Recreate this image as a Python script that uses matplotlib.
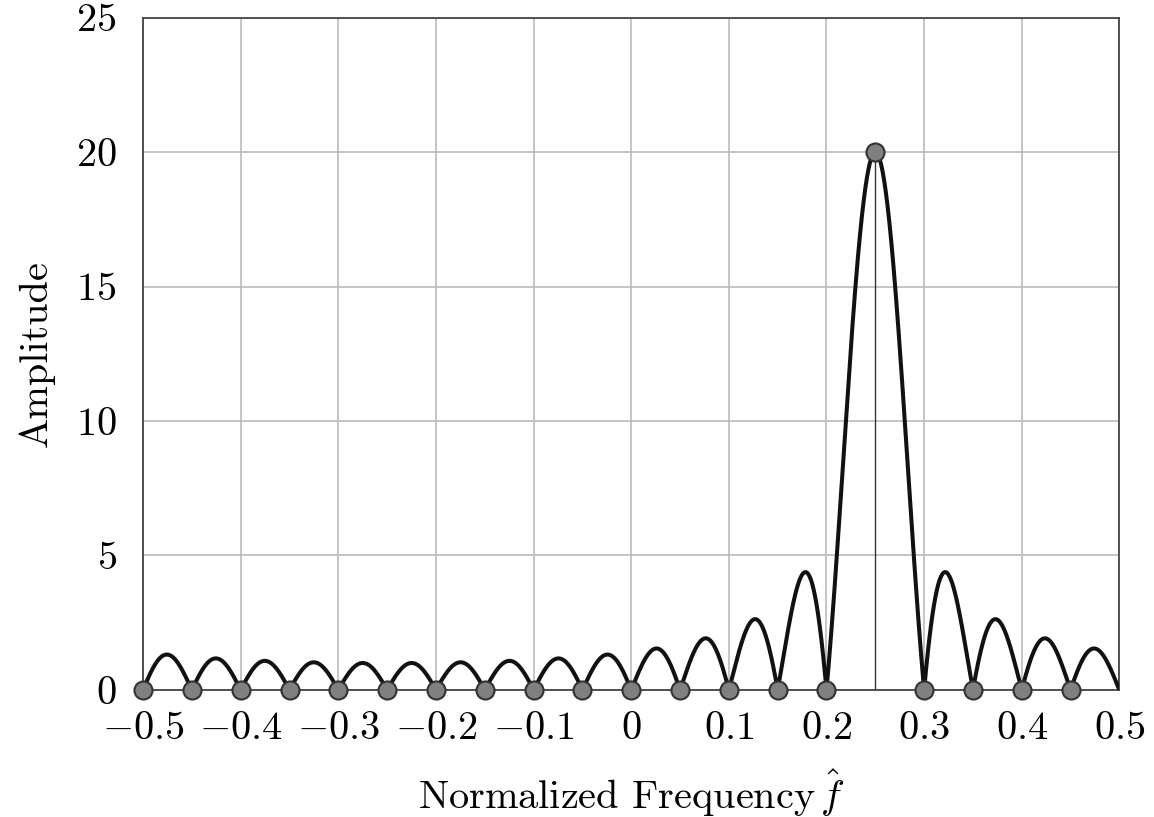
import numpy as np
from matplotlib import pyplot as plt

# DFT samples (20 bins, normalized frequency)
binFreqs = [-0.5, -0.45, -0.4, -0.35, -0.3, -0.25, -0.2, -0.15, -0.1, -0.05,
            0.0, 0.05, 0.1, 0.15, 0.2, 0.25, 0.3, 0.35, 0.4, 0.45]
binAmps = [0, 0, 0, 0, 0, 0, 0, 0, 0, 0,
           0, 0, 0, 0, 0, 20, 0, 0, 0, 0]
xTicks = [-0.5, -0.4, -0.3, -0.2, -0.1, 0, 0.1, 0.2, 0.3, 0.4, 0.5]
xTickLabels = [r'$-0.5$', r'$-0.4$', r'$-0.3$', r'$-0.2$', r'$-0.1$', r'$0$',
               r'$0.1$', r'$0.2$', r'$0.3$', r'$0.4$', r'$0.5$']
yTicks = [0, 5, 10, 15, 20, 25]

plt.rcParams['mathtext.fontset'] = 'cm'
plt.rcParams['font.family'] = ['cmr10', 'DejaVu Serif']
plt.rcParams['axes.unicode_minus'] = False

# continuous spectrum = DTFT of the time signal behind the DFT samples
N = len(binAmps)
X = np.fft.ifftshift(np.array(binAmps, dtype=complex))
x = np.fft.ifft(X)
pad = 4000
spec = np.abs(np.fft.fftshift(np.fft.fft(x, pad)))
f = np.fft.fftshift(np.fft.fftfreq(pad))
f = np.append(f, 0.5)
spec = np.append(spec, spec[0])

fig = plt.figure(figsize=(11.54, 8.17), dpi=100)
ax = fig.add_axes([0.124, 0.1555, 0.846, 0.823])

ax.plot(f, spec, color='#111111', linewidth=2.9, zorder=3)
for fx, a in zip(binFreqs, binAmps):
    if a > 0:
        ax.plot([fx, fx], [0, a], color='#333333', linewidth=1.0, zorder=2)
ax.plot(binFreqs, binAmps, 'o', markersize=13, markerfacecolor='#808080',
        markeredgecolor='#333333', markeredgewidth=1.5, zorder=4, clip_on=False)

ax.set_xlim(-0.5, 0.5)
ax.set_ylim(0, 25)
ax.set_xticks(xTicks)
ax.set_xticklabels(xTickLabels)
ax.set_yticks(yTicks)
ax.set_yticklabels([rf'${v}$' for v in yTicks])
ax.tick_params(length=0, labelsize=29)
ax.tick_params(axis='x', pad=15)
ax.tick_params(axis='y', pad=19)
ax.grid(True, color='#bbbbbb', linewidth=1.2)
ax.set_axisbelow(True)
for s in ax.spines.values():
    s.set_color('#444444')
    s.set_linewidth(1.3)

ax.set_xlabel(r'Normalized Frequency$\,\hat{f}$', fontsize=29, labelpad=15)
ax.set_ylabel('Amplitude', fontsize=29, labelpad=15)

plt.savefig('out.png', dpi=100)
